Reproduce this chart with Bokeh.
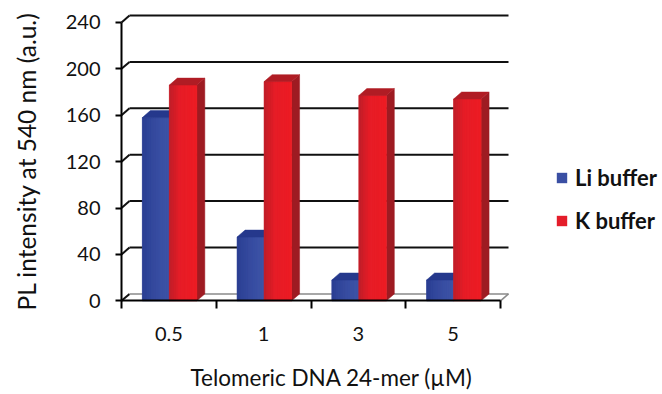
import numpy as np
from bokeh.plotting import figure
from bokeh.models import Range1d, FixedTicker, Legend, LegendItem, Title
from bokeh.embed import file_html
from bokeh.resources import INLINE

# ---------------- data ----------------
categories = ["0.5", "1", "3", "5"]
li_buffer = [158, 55, 18, 18]
k_buffer = [186, 189, 177, 174]
y_ticks = [0, 40, 80, 120, 160, 200, 240]
x_title = "Telomeric DNA 24-mer (\u00b5M)"
y_title = "PL intensity at 540 nm (a.u.)"
series_names = ["Li buffer", "K buffer"]

# ---------------- layout ----------------
W, H = 662, 394
AXIS_X = 121          # pixel column of the value axis
AXIS_Y = 302          # pixel row of the category axis
LEFT, RIGHT, TOP, BOTTOM = 45, 0, 12, 32
PX_X = 94.75          # pixels per category slot
PX_Y = 280.0 / 240.0  # pixels per value unit
frame_w = W - LEFT - RIGHT
frame_h = H - TOP - BOTTOM
n = len(categories)
DX = 8 / PX_X         # depth offset (x, data units)
DY = 7 / PX_Y         # depth offset (y, data units)
FONT = "Lato"
TXT = "#111111"
x0 = -(AXIS_X - LEFT) / PX_X
y0 = -((H - BOTTOM) - AXIS_Y) / PX_Y

p = figure(width=W, height=H,
           x_range=Range1d(x0, x0 + frame_w / PX_X),
           y_range=Range1d(y0, y0 + frame_h / PX_Y),
           output_backend="svg", toolbar_location=None,
           min_border_left=LEFT, min_border_right=RIGHT,
           min_border_top=TOP, min_border_bottom=BOTTOM)
p.grid.visible = False
p.outline_line_color = None
p.background_fill_color = "white"

# ---------------- walls / gridlines ----------------
grid_vals = [v for v in y_ticks if v > 0]
p.segment(x0=[DX] * len(grid_vals), y0=[v + DY for v in grid_vals],
          x1=[n + DX] * len(grid_vals), y1=[v + DY for v in grid_vals],
          line_color="#101010", line_width=2)
p.segment(x0=[0] * len(y_ticks), y0=y_ticks,
          x1=[DX] * len(y_ticks), y1=[v + DY for v in y_ticks],
          line_color="#101010", line_width=2)
# floor
p.segment(x0=[DX, n], y0=[DY, 0], x1=[n + DX, n + DX], y1=[DY, DY],
          line_color="#8a8a8a", line_width=1.5)

# ---------------- bars ----------------
def lerp_color(stops, t):
    for (t0, c0), (t1, c1) in zip(stops[:-1], stops[1:]):
        if t <= t1:
            f = (t - t0) / (t1 - t0) if t1 > t0 else 0
            c = [int(round(a + (b - a) * f)) for a, b in zip(c0, c1)]
            return "#%02x%02x%02x" % tuple(c)
    return "#%02x%02x%02x" % tuple(stops[-1][1])

def draw_bars(values, off_l, off_r, base, stops, top_col, side_col):
    lefts = [i + off_l for i in range(n)]
    rights = [i + off_r for i in range(n)]
    # side faces
    p.patches(xs=[[r, r, r + DX, r + DX] for r in rights],
              ys=[[0, v, v + DY, DY] for v in values],
              fill_color=side_col, line_color=side_col, line_width=0.5)
    # front base
    front = p.quad(left=lefts, right=rights, bottom=[0] * n, top=values,
                   fill_color=base, line_color=None)
    # gradient strips
    ns = 12
    sl, sr, st, sc = [], [], [], []
    for l, r, v in zip(lefts, rights, values):
        edges = np.linspace(l, r, ns + 1)
        for k in range(ns):
            sl.append(edges[k]); sr.append(edges[k + 1]); st.append(v)
            sc.append(lerp_color(stops, (k + 0.5) / ns))
    p.quad(left=sl, right=sr, bottom=[0] * len(sl), top=st,
           fill_color=sc, line_color=sc, line_width=0.6)
    # top faces
    p.patches(xs=[[l, r, r + DX, l + DX] for l, r in zip(lefts, rights)],
              ys=[[v, v, v + DY, v + DY] for v in values],
              fill_color=top_col, line_color=top_col, line_width=0.5)
    return front

blue_front = draw_bars(li_buffer, 0.22, 0.505, "#3a4fa3",
                       [(0, (42, 62, 146)), (0.6, (56, 78, 162)), (1, (62, 84, 166))],
                       "#25388c", "#1f2f7a")
red_front = draw_bars(k_buffer, 0.505, 0.795, "#e41d2a",
                      [(0, (190, 30, 40)), (0.4, (230, 29, 39)), (1, (238, 28, 36))],
                      "#b01c24", "#9e1b22")

# ---------------- axes ----------------
ya = p.yaxis[0]
ya.fixed_location = 0
ya.ticker = FixedTicker(ticks=y_ticks)
ya.bounds = (0, max(y_ticks))
ya.axis_line_width = 2
ya.axis_line_color = "black"
ya.major_tick_out = 6
ya.major_tick_in = 0
ya.major_tick_line_width = 2
ya.minor_tick_line_color = None
ya.major_label_standoff = 15
ya.major_label_text_font = FONT
ya.major_label_text_font_size = "20px"
ya.major_label_text_color = TXT

xa = p.xaxis[0]
xa.fixed_location = 0
xa.ticker = FixedTicker(ticks=[i + 0.5 for i in range(n)], minor_ticks=list(range(n + 1)))
xa.major_label_overrides = {i + 0.5: c for i, c in enumerate(categories)}
xa.bounds = (0, n)
xa.axis_line_width = 2
xa.axis_line_color = "black"
xa.major_tick_line_color = None
xa.major_tick_out = 0
xa.major_tick_in = 0
xa.minor_tick_out = 8
xa.minor_tick_in = 0
xa.minor_tick_line_width = 2
xa.minor_tick_line_color = "black"
xa.major_label_standoff = 18
xa.major_label_text_font = FONT
xa.major_label_text_font_size = "20px"
xa.major_label_text_color = TXT

p.add_layout(Title(text=x_title, align="left", offset=69 + AXIS_X - LEFT, standoff=5,
                   vertical_align="middle",
                   text_font=FONT, text_font_size="22.5px", text_font_style="normal",
                   text_color=TXT), "below")
p.add_layout(Title(text=y_title, align="left", offset=(H - BOTTOM) - 312, standoff=10,
                   text_font=FONT, text_font_size="24.5px", text_font_style="normal",
                   text_color=TXT), "left")

# ---------------- legend ----------------
legend = Legend(items=[LegendItem(label=series_names[0], renderers=[blue_front]),
                       LegendItem(label=series_names[1], renderers=[red_front])],
                location=(434 + AXIS_X - LEFT, 66 + (H - BOTTOM) - AXIS_Y),
                orientation="vertical",
                glyph_width=13, glyph_height=13, label_height=20, spacing=16,
                padding=0, margin=0, border_line_color=None, background_fill_alpha=0,
                label_text_font=FONT, label_text_font_style="bold",
                label_text_font_size="22px", label_text_color=TXT, label_standoff=7)
p.add_layout(legend)

open("out.html", "w").write(file_html(p, INLINE))
